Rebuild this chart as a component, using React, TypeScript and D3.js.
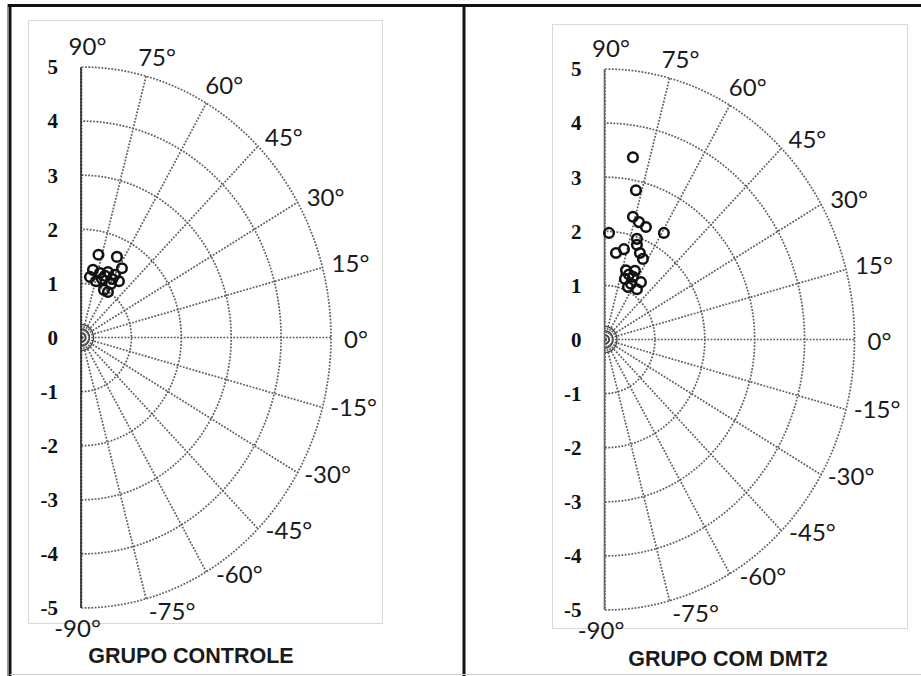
import React from "react";
import * as d3 from "d3";

// ---- Data ----
const ANGLES = [90, 75, 60, 45, 30, 15, 0, -15, -30, -45, -60, -75, -90];
const ANGLE_LABELS = ["90°", "75°", "60°", "45°", "30°", "15°", "0°", "-15°", "-30°", "-45°", "-60°", "-75°", "-90°"];
const RADII = [1, 2, 3, 4, 5];
const INNER_RADII = [0.08, 0.16, 0.24];
const Y_TICKS = [5, 4, 3, 2, 1, 0, -1, -2, -3, -4, -5];

// Grupo controle: x (cos component), y (sin component)
const CONTROL_X = [0.34, 0.71, 0.23, 0.37, 0.53, 0.67, 0.81, 0.75, 0.59, 0.45, 0.53, 0.29, 0.41, 0.17, 0.47, 0.62];
const CONTROL_Y = [1.53, 1.49, 1.25, 1.19, 1.21, 1.16, 1.28, 1.04, 0.99, 0.88, 0.84, 1.04, 1.08, 1.12, 1.14, 1.08];

// Grupo com DMT2
const DMT2_X = [0.56, 0.62, 0.56, 0.68, 0.82, 0.08, 1.18, 0.64, 0.64, 0.38, 0.22, 0.70, 0.76, 0.42, 0.60, 0.40, 0.56, 0.72, 0.46, 0.64, 0.52, 0.48];
const DMT2_Y = [3.37, 2.76, 2.27, 2.17, 2.08, 1.97, 1.97, 1.86, 1.75, 1.67, 1.60, 1.60, 1.49, 1.28, 1.27, 1.12, 1.16, 1.06, 0.97, 0.93, 1.03, 1.20];

const TITLES = ["GRUPO CONTROLE", "GRUPO COM DMT2"];

// ---- Layout ----
const W = 921;
const H = 676;
// label offsets (px) from the outer spoke end, per angle
const LABEL_OFFSETS: [number, number][] = [
  [6, -21], [11, -19], [18, -18], [26, -9], [28, -5], [28, -4], [25, 2],
  [31, 0], [30, 2], [31, 2], [33, 3], [26, 13], [-4, 20],
];

type PanelProps = {
  dx: number;
  dy: number;
  xs: number[];
  ys: number[];
  title: string;
  titleX: number;
  titleY: number;
  box: [number, number, number, number];
  axisColor: string;
};

function Panel({ dx, dy, xs, ys, title, titleX, titleY, box, axisColor }: PanelProps) {
  const cx = 81.5 + dx;
  const cy = 337.5 + dy;
  const x = d3.scaleLinear().domain([0, 5]).range([cx, cx + 249.5]);
  const y = d3.scaleLinear().domain([-5, 5]).range([cy + 270.5, cy - 270.5]);
  const toRad = (a: number) => (a * Math.PI) / 180;
  const arcSamples = d3.range(-90, 90.01, 1);
  const arcLine = (r: number) =>
    d3.line<number>()
      .x((a) => x(r * Math.cos(toRad(a))))
      .y((a) => y(r * Math.sin(toRad(a))))(arcSamples) || "";
  const grid = "#5e5e5e";
  return (
    <g>
      <rect x={box[0]} y={box[1]} width={box[2] - box[0]} height={box[3] - box[1]} fill="#fff" stroke="#d9d9d9" strokeWidth={1} />
      {ANGLES.map((a) => (
        <line key={"s" + a} x1={x(0)} y1={y(0)} x2={x(5 * Math.cos(toRad(a)))} y2={y(5 * Math.sin(toRad(a)))}
          stroke={grid} strokeWidth={1.7} strokeDasharray="1.8 1.5" />
      ))}
      {RADII.map((r) => (
        <path key={"r" + r} d={arcLine(r)} fill="none" stroke={grid} strokeWidth={1.7} strokeDasharray="1.8 1.5" />
      ))}
      {INNER_RADII.map((r) => (
        <path key={"ir" + r} d={arcLine(r)} fill="none" stroke="#444" strokeWidth={1.3} />
      ))}
      <line x1={x(0) - 0.5} x2={x(0) - 0.5} y1={y(-5)} y2={y(5)} stroke={axisColor} strokeWidth={1.6} />
      {Y_TICKS.map((t) => (
        <text key={"t" + t} x={cx - 23.5} y={y(t)} dy="0.35em" textAnchor="end"
          fontFamily="'Liberation Serif', 'Times New Roman', serif" fontWeight="bold" fontSize={21} fill="#111">
          {t}
        </text>
      ))}
      {ANGLES.map((a, i) => (
        <text key={"l" + a}
          x={x(5 * Math.cos(toRad(a))) + LABEL_OFFSETS[i][0]}
          y={y(5 * Math.sin(toRad(a))) + LABEL_OFFSETS[i][1]}
          dy="0.36em" textAnchor="middle" fontFamily="Lato, 'Open Sans', sans-serif" fontSize={24} fill="#1a1a1a">
          {ANGLE_LABELS[i]}
        </text>
      ))}
      {xs.map((v, i) => (
        <circle key={"p" + i} cx={x(v)} cy={y(ys[i])} r={4.8} fill="none" stroke="#111" strokeWidth={2.5} />
      ))}
      <text x={titleX} y={titleY} textAnchor="middle" fontFamily="'Liberation Sans', Arial, sans-serif"
        fontWeight="bold" fontSize={21.5} fill="#1a1a1a">
        {title}
      </text>
    </g>
  );
}

export default function App() {
  return (
    <svg width={W} height={H} style={{ position: "absolute", left: 0, top: 0, background: "#fff" }}>
      <rect x={0} y={0} width={W} height={H} fill="#fff" />
      <Panel dx={0} dy={0} xs={CONTROL_X} ys={CONTROL_Y} title={TITLES[0]} titleX={191} titleY={663} box={[28.5, 20.5, 382.5, 623.5]} axisColor="#222" />
      <Panel dx={523.5} dy={2} xs={DMT2_X} ys={DMT2_Y} title={TITLES[1]} titleX={728} titleY={666} box={[552.5, 24.5, 907.5, 628.5]} axisColor="#666" />
      {/* frame */}
      <line x1={7} x2={W} y1={5.5} y2={5.5} stroke="#111" strokeWidth={3} />
      <line x1={10} x2={10} y1={4} y2={H} stroke="#111" strokeWidth={3} />
      <line x1={7.5} x2={7.5} y1={4} y2={H} stroke="#999" strokeWidth={1} />
      <line x1={464} x2={464} y1={4} y2={H} stroke="#111" strokeWidth={3} />
      <line x1={10} x2={W} y1={674.5} y2={674.5} stroke="#ccc" strokeWidth={1} />
    </svg>
  );
}
